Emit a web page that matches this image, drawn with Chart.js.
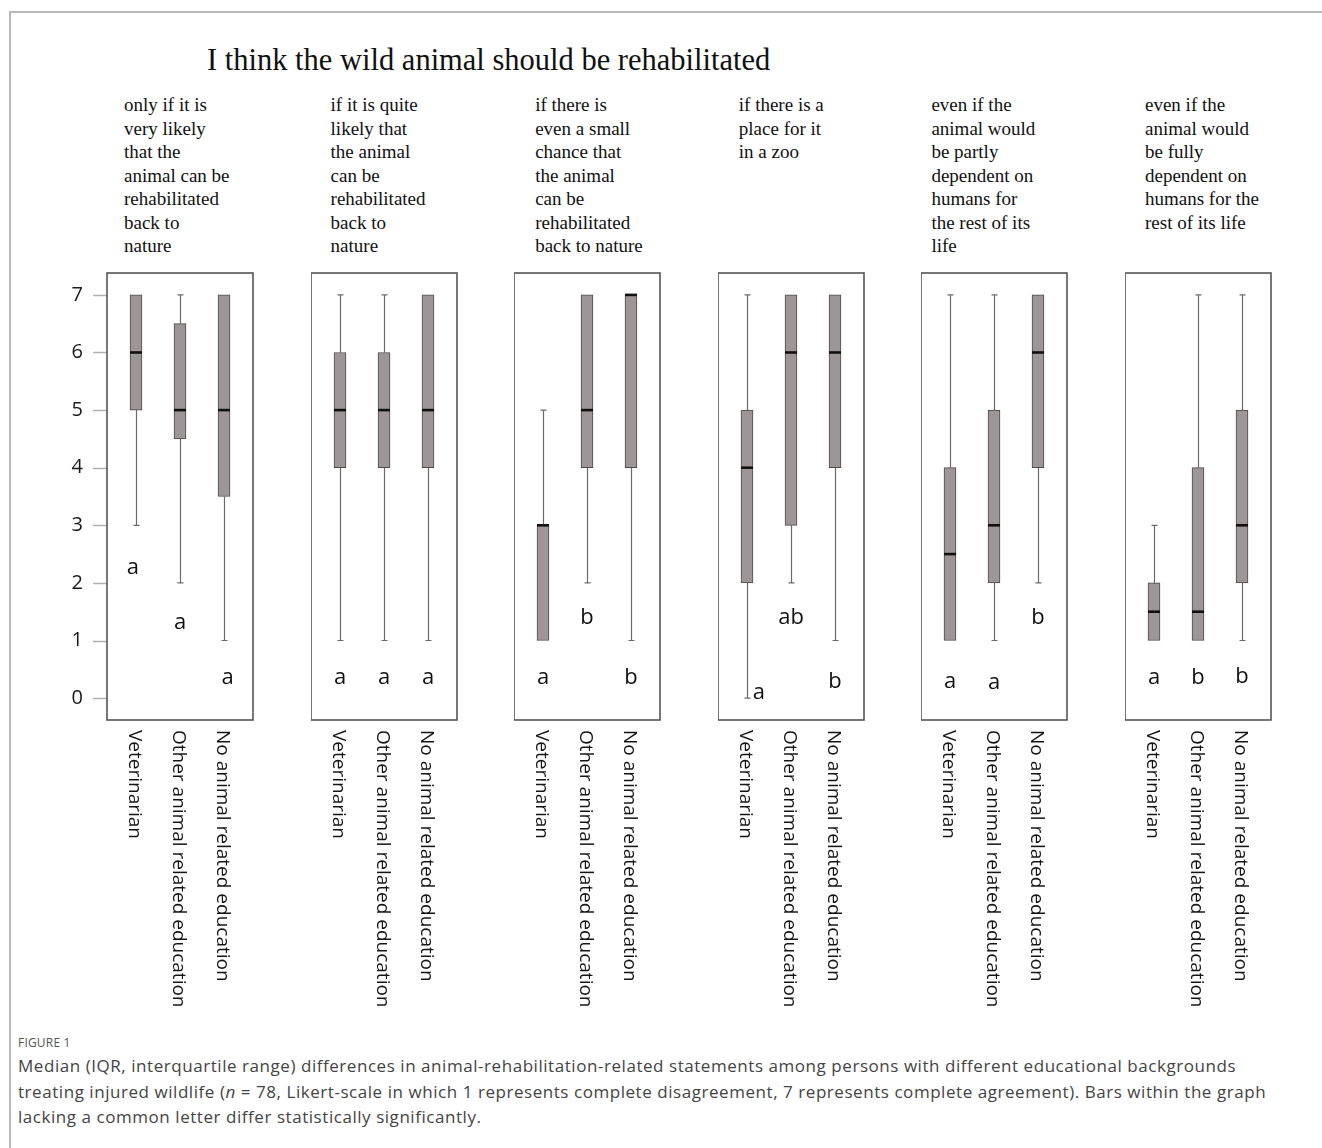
<!DOCTYPE html>
<html>
<head>
<meta charset="utf-8">
<script src="https://cdn.jsdelivr.net/npm/chart.js@4.4.1/dist/chart.umd.min.js"></script>
<style>
  body { margin: 0; background: #fff; width: 1322px; height: 1148px; overflow: hidden; position: relative; }
  .frame { position: absolute; left: 9px; top: 11px; width: 1400px; height: 1300px; border-left: 2px solid #b8b8b8; border-top: 2px solid #b8b8b8; }
  .title { position: absolute; left: 207px; top: 40px; font-family: 'Liberation Serif', serif; font-size: 30.5px; line-height: 40px; color: #111; white-space: nowrap; }
  .stmt { position: absolute; top: 93px; font-family: 'Liberation Serif', serif; font-size: 19px; line-height: 23.5px; color: #111; white-space: nowrap; }
  canvas { position: absolute; }
  .figlabel { position: absolute; left: 18px; top: 1034px; font-family: 'Open Sans', sans-serif; font-size: 12px; color: #555; letter-spacing: 0.2px; }
  .caption { position: absolute; left: 18px; top: 1053px; width: 1300px; font-family: 'Open Sans', sans-serif; font-size: 17px; letter-spacing: 0.55px; line-height: 25.5px; color: #444; white-space: nowrap; }
</style>
</head>
<body>
<div class="frame"></div>
<div class="title">I think the wild animal should be rehabilitated</div>
<div id="heads"></div>
<div id="charts"></div>
<div class="figlabel">FIGURE 1</div>
<div class="caption">Median (IQR, interquartile range) differences in animal-rehabilitation-related statements among persons with different educational backgrounds<br>treating injured wildlife (<i>n</i>&nbsp;=&nbsp;78, Likert-scale in which 1 represents complete disagreement, 7 represents complete agreement). Bars within the graph<br>lacking a common letter differ statistically significantly.</div>

<script>
'use strict';

// groups on the x axis of every panel
const groups = ['Veterinarian', 'Other animal related education', 'No animal related education'];

// statement above each panel, one entry per line
const statements = [
    ['only if it is', 'very likely', 'that the', 'animal can be', 'rehabilitated', 'back to', 'nature'],
    ['if it is quite', 'likely that', 'the animal', 'can be', 'rehabilitated', 'back to', 'nature'],
    ['if there is', 'even a small', 'chance that', 'the animal', 'can be', 'rehabilitated', 'back to nature'],
    ['if there is a', 'place for it', 'in a zoo'],
    ['even if the', 'animal would', 'be partly', 'dependent on', 'humans for', 'the rest of its', 'life'],
    ['even if the', 'animal would', 'be fully', 'dependent on', 'humans for the', 'rest of its life']
];

// box plot values per panel: [Veterinarian, Other, No animal]
const mins    = [[3, 2, 1],     [1, 1, 1], [1, 2, 1], [0, 2, 1], [1, 1, 2],   [1, 1, 1]];
const q1s     = [[5, 4.5, 3.5], [4, 4, 4], [1, 4, 4], [2, 3, 4], [1, 2, 4],   [1, 1, 2]];
const medians = [[6, 5, 5],     [5, 5, 5], [3, 5, 7], [4, 6, 6], [2.5, 3, 6], [1.5, 1.5, 3]];
const q3s     = [[7, 6.5, 7],   [6, 6, 7], [3, 7, 7], [5, 7, 7], [4, 5, 7],   [2, 4, 5]];
const maxs    = [[7, 7, 7],     [7, 7, 7], [5, 7, 7], [7, 7, 7], [7, 7, 7],   [3, 7, 7]];

// significance letters and the value where each one sits
const letters = [['a', 'a', 'a'], ['a', 'a', 'a'], ['a', 'b', 'b'], ['a', 'ab', 'b'], ['a', 'a', 'b'], ['a', 'b', 'b']];
const letterY = [[2.27, 1.3, 0.36], [0.36, 0.36, 0.36], [0.35, 1.39, 0.35], [0.1, 1.39, 0.28], [0.28, 0.26, 1.39], [0.35, 0.35, 0.37]];
const letterShift = [[-0.07, 0, 0.08], [0, 0, 0], [0, 0, 0], [0.27, 0, 0], [0, 0, 0], [0, 0, 0]];

const yTicks = [0, 1, 2, 3, 4, 5, 6, 7];

const boxFill = '#9d9596';
const boxLine = '#4d4a4a';
const whiskerColor = '#6b6b6b';

// panel placement
const panelLeft0 = 107;
const panelStep = 203.6;
const panelWidth = 146;
const inset = 7;
const panelTop = 273;
const panelHeight = 447;
const padTop = 20;

let headsDiv = document.getElementById('heads');
let headOffsets = [17, 20, 21, 21, 10, 20];
for (let i = 0; i < statements.length; i++) {
    let d = document.createElement('div');
    d.className = 'stmt';
    d.style.left = (panelLeft0 + i * panelStep + headOffsets[i]) + 'px';
    d.innerHTML = statements[i].join('<br>');
    headsDiv.appendChild(d);
}

// whiskers, medians, frame, letters and rotated group names
const boxPlotParts = {
    id: 'boxPlotParts',
    beforeDatasetsDraw(chart) {
        let p = chart.options.plugins.boxPlotParts.panel;
        let x = chart.scales.x, y = chart.scales.y, ctx = chart.ctx;
        ctx.save();
        ctx.strokeStyle = whiskerColor;
        ctx.lineWidth = 1.2;
        for (let j = 0; j < groups.length; j++) {
            let cx = Math.round(x.getPixelForValue(j)) + 0.5;
            let yMin = y.getPixelForValue(mins[p][j]);
            let yMax = y.getPixelForValue(maxs[p][j]);
            let yQ1 = y.getPixelForValue(q1s[p][j]);
            let yQ3 = y.getPixelForValue(q3s[p][j]);
            ctx.beginPath();
            if (mins[p][j] < q1s[p][j]) {
                ctx.moveTo(cx, yQ1); ctx.lineTo(cx, yMin);
                ctx.moveTo(cx - 3, yMin); ctx.lineTo(cx + 3, yMin);
            }
            if (maxs[p][j] > q3s[p][j]) {
                ctx.moveTo(cx, yQ3); ctx.lineTo(cx, yMax);
                ctx.moveTo(cx - 3, yMax); ctx.lineTo(cx + 3, yMax);
            }
            ctx.stroke();
        }
        ctx.restore();
    },
    afterDraw(chart) {
        let p = chart.options.plugins.boxPlotParts.panel;
        let x = chart.scales.x, y = chart.scales.y, ctx = chart.ctx;
        let area = chart.chartArea;
        let frameLeft = area.left - inset;
        let frameRight = area.right + inset;
        ctx.save();
        // medians
        ctx.strokeStyle = '#111';
        ctx.lineWidth = 2.6;
        for (let j = 0; j < groups.length; j++) {
            let cx = x.getPixelForValue(j);
            let ym = y.getPixelForValue(medians[p][j]);
            ctx.beginPath();
            ctx.moveTo(cx - 6, ym);
            ctx.lineTo(cx + 6, ym);
            ctx.stroke();
        }
        // y tick marks outside the first frame
        if (p === 0) {
            ctx.strokeStyle = '#b0b0b0';
            ctx.lineWidth = 1.5;
            yTicks.forEach(v => {
                let ty = Math.round(y.getPixelForValue(v)) + 0.5;
                ctx.beginPath();
                ctx.moveTo(frameLeft - 14, ty);
                ctx.lineTo(frameLeft, ty);
                ctx.stroke();
            });
        }
        // panel frame
        ctx.strokeStyle = '#555';
        ctx.lineWidth = 1.6;
        ctx.strokeRect(frameLeft, area.top, frameRight - frameLeft, area.bottom - area.top);
        // letters
        ctx.fillStyle = '#111';
        ctx.font = '22px "Open Sans", sans-serif';
        ctx.textAlign = 'center';
        ctx.textBaseline = 'middle';
        for (let j = 0; j < groups.length; j++) {
            ctx.fillText(letters[p][j], x.getPixelForValue(j + letterShift[p][j]), y.getPixelForValue(letterY[p][j]));
        }
        // group names, reading downwards
        ctx.font = '19px "Open Sans", sans-serif';
        ctx.fillStyle = '#141414';
        ctx.textAlign = 'left';
        for (let j = 0; j < groups.length; j++) {
            ctx.save();
            ctx.translate(x.getPixelForValue(j) - 2, area.bottom + 10);
            ctx.rotate(Math.PI / 2);
            ctx.fillText(groups[j], 0, 0);
            ctx.restore();
        }
        ctx.restore();
    }
};

let chartsDiv = document.getElementById('charts');
for (let i = 0; i < statements.length; i++) {
    let first = i === 0;
    let axisWidth = first ? 74 : 0;
    let canvas = document.createElement('canvas');
    let w = axisWidth + panelWidth + 4 + (first ? -inset : 0);
    let h = padTop + panelHeight + 300;
    canvas.width = w;
    canvas.height = h;
    // first panel: the axis area already covers the inset on the left
    let canvasLeft = panelLeft0 + i * panelStep - (first ? axisWidth - inset : 0);
    canvas.style.left = canvasLeft + 'px';
    canvas.style.top = (panelTop - padTop) + 'px';
    chartsDiv.appendChild(canvas);

    let data = {
        labels: groups,
        datasets: [{
            data: groups.map((g, j) => [q1s[i][j], q3s[i][j]]),
            backgroundColor: boxFill,
            borderColor: boxLine,
            borderWidth: 1,
            borderSkipped: false,
            barThickness: 12
        }]
    };

    let config = {
        type: 'bar',
        data,
        options: {
            responsive: false,
            animation: false,
            layout: { padding: { top: padTop, bottom: 300, left: first ? 0 : inset, right: inset + 4 } },
            plugins: {
                legend: { display: false },
                tooltip: { enabled: false },
                boxPlotParts: { panel: i }
            },
            scales: {
                x: {
                    type: 'category',
                    offset: true,
                    display: false
                },
                y: {
                    min: -0.38,
                    max: 7.38,
                    display: first,
                    afterBuildTicks: (scale) => { scale.ticks = yTicks.map(v => ({ value: v })); },
                    afterFit: (scale) => {
                        scale.width = axisWidth;
                        scale.paddingTop = 0;
                        scale.paddingBottom = 0;
                    },
                    border: { display: false },
                    grid: { display: false, drawTicks: false },
                    ticks: { padding: 31, color: '#1a1a1a', font: { family: 'Open Sans', size: 20 } }
                }
            }
        },
        plugins: [boxPlotParts]
    };

    new Chart(canvas, config);
}
</script>
</body>
</html>
